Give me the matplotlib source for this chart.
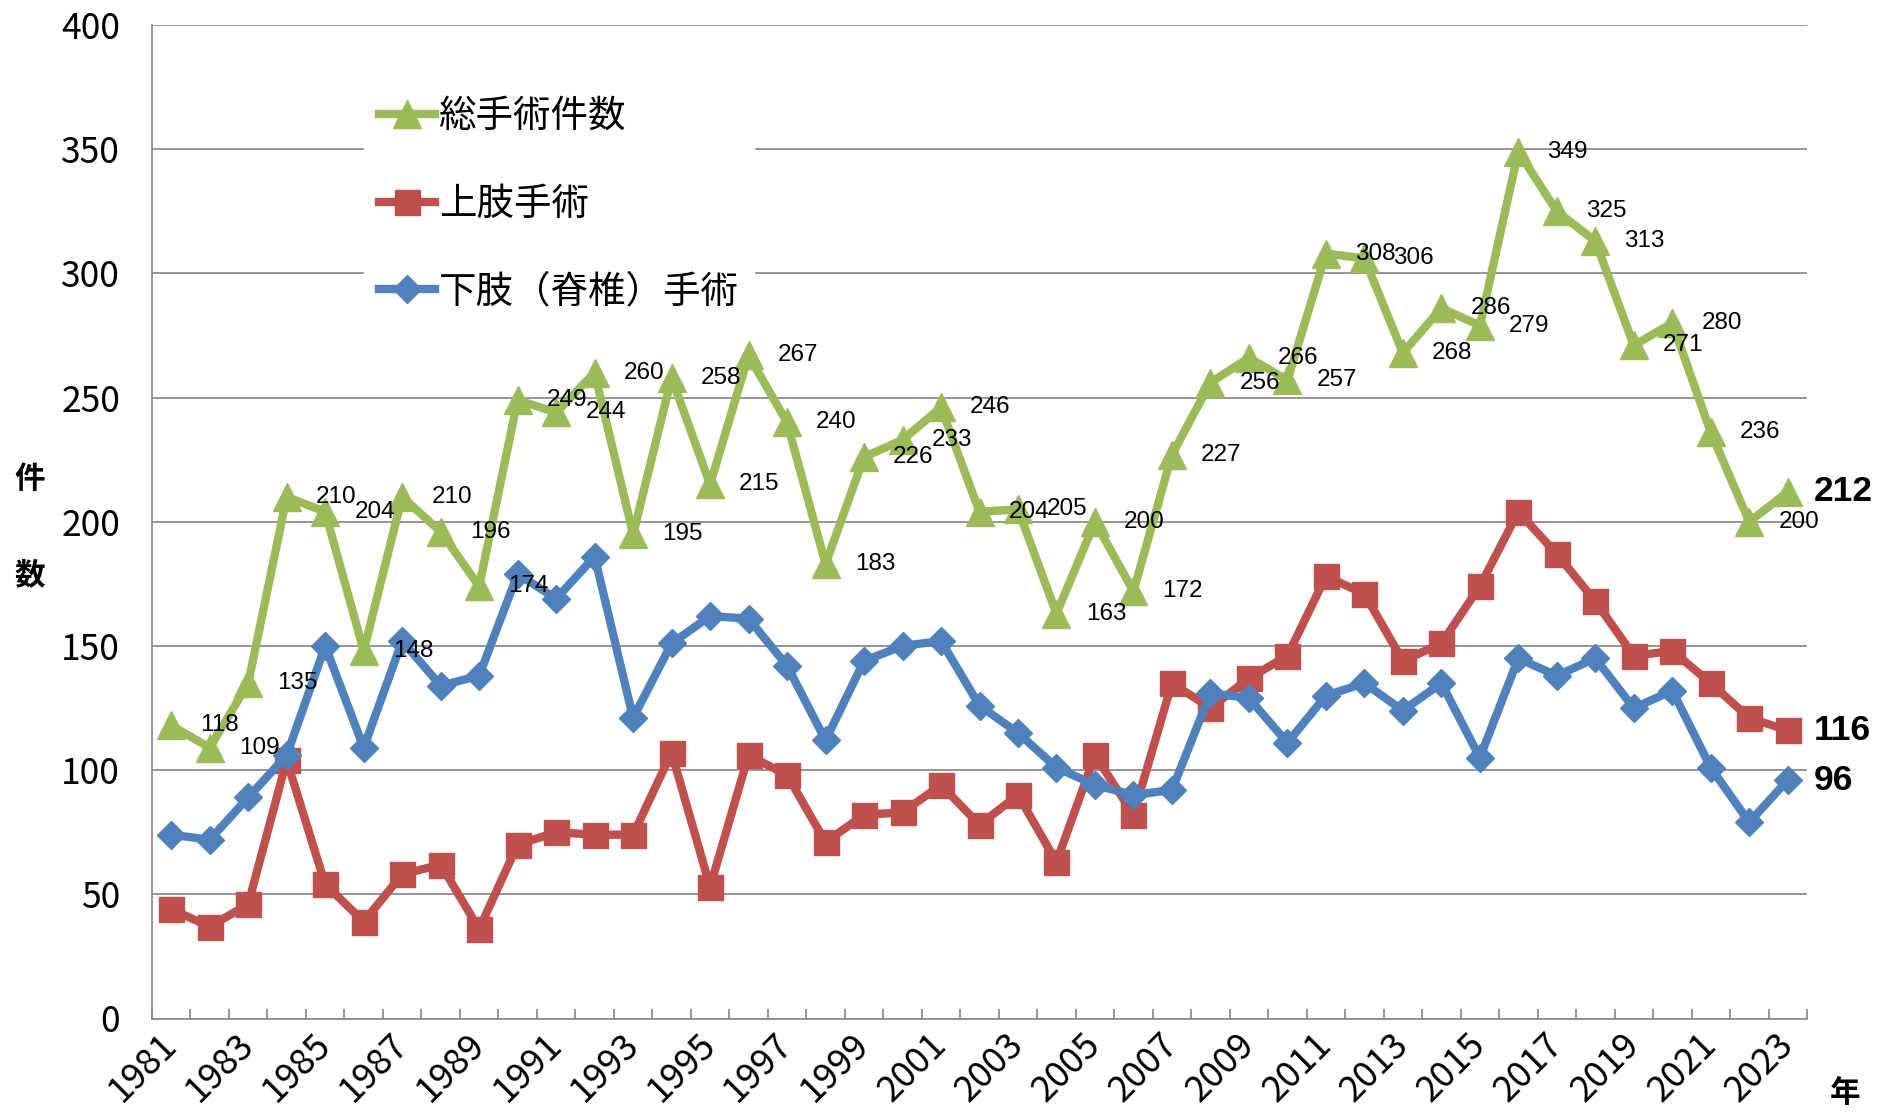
import numpy as np
import matplotlib.pyplot as plt

plt.rcParams['font.family'] = ['Noto Sans CJK JP', 'DejaVu Sans']

years = list(range(1981, 2024))

# 総手術件数
total = [118, 109, 135, 210, 204, 148, 210, 196, 174, 249,
         244, 260, 195, 258, 215, 267, 240, 183, 226, 233,
         246, 204, 205, 163, 200, 172, 227, 256, 266, 257,
         308, 306, 268, 286, 279, 349, 325, 313, 271, 280,
         236, 200, 212]
# 上肢手術
upper = [44, 37, 46, 104, 54, 39, 58, 62, 36, 70,
         75, 74, 74, 107, 53, 106, 98, 71, 82, 83,
         94, 78, 90, 63, 106, 82, 135, 125, 137, 146,
         178, 171, 144, 151, 174, 204, 187, 168, 146, 148,
         135, 121, 116]
# 下肢（脊椎）手術
lower = [74, 72, 89, 106, 150, 109, 152, 134, 138, 179,
         169, 186, 121, 151, 162, 161, 142, 112, 144, 150,
         152, 126, 115, 101, 94, 90, 92, 131, 129, 111,
         130, 135, 124, 135, 105, 145, 138, 145, 125, 132,
         101, 79, 96]

names = ['総手術件数', '上肢手術', '下肢（脊椎）手術']
colors = ['#9BBB59', '#C0504D', '#4F81BD']

W, H = 1879, 1118
fig = plt.figure(figsize=(W / 100, H / 100), dpi=100)
ax = fig.add_axes([152 / W, 99.5 / H, 1655 / W, 993.5 / H])

x = np.arange(len(years))
grid_c = '#8c8c8c'

l_up, = ax.plot(x, upper, color=colors[1], lw=6, marker='s', ms=18, zorder=3)
l_lo, = ax.plot(x, lower, color=colors[2], lw=6, marker='D', ms=14, zorder=4)
l_tot, = ax.plot(x, total, color=colors[0], lw=6, marker='^', ms=20, zorder=5)

# data labels for the total series
lab_font = ['Liberation Sans', 'DejaVu Sans']
for i, v in enumerate(total[:-1]):
    ax.annotate(str(v), (x[i], v), xytext=(21, 0), textcoords='offset points',
                ha='left', va='center', fontsize=17.5, family=lab_font, zorder=6)
for s in (total, upper, lower):
    ax.annotate(str(s[-1]), (x[-1], s[-1]), xytext=(19, 0), textcoords='offset points',
                ha='left', va='center', fontsize=25.5, fontweight='bold',
                family=lab_font, annotation_clip=False, zorder=6)

ax.set_xlim(-0.5, len(years) - 0.5)
ax.set_ylim(0, 400)
ax.set_yticks(range(0, 401, 50))
ax.tick_params(axis='y', length=0, pad=23, labelsize=25.5)

ax.set_xticks(x[::2])
ax.set_xticklabels([str(y) for y in years[::2]], rotation=45,
                   ha='right', va='center', rotation_mode='anchor')
ax.set_xticks(np.arange(-0.5, len(years), 1), minor=True)
ax.tick_params(axis='x', which='major', length=0, pad=15, labelsize=26)
ax.tick_params(axis='x', which='minor', direction='in', length=7.5,
               width=1.3, color=grid_c)

ax.grid(axis='y', color=grid_c, lw=1.3)
ax.set_axisbelow(True)
for side in ('top', 'right'):
    ax.spines[side].set_visible(False)
for side in ('left', 'bottom'):
    ax.spines[side].set_color(grid_c)
    ax.spines[side].set_linewidth(1.3)

leg = ax.legend([l_tot, l_up, l_lo], names, loc='upper left',
                bbox_to_anchor=(364 / W, 1 - 82 / H), bbox_transform=fig.transFigure,
                frameon=True, fancybox=False, edgecolor='white', framealpha=1,
                fontsize=27, handlelength=1.5, handletextpad=0.1,
                labelspacing=1.3, borderpad=0.4, borderaxespad=0)
leg.set_zorder(10)

fig.text(30 / W, 1 - 479 / H, '件', fontsize=22, fontweight='bold', ha='center', va='center')
fig.text(30 / W, 1 - 575 / H, '数', fontsize=22, fontweight='bold', ha='center', va='center')
fig.text(1845 / W, 1 - 1093 / H, '年', fontsize=22, fontweight='bold', ha='center', va='center')

fig.savefig('out.png', dpi=100, facecolor='white')
